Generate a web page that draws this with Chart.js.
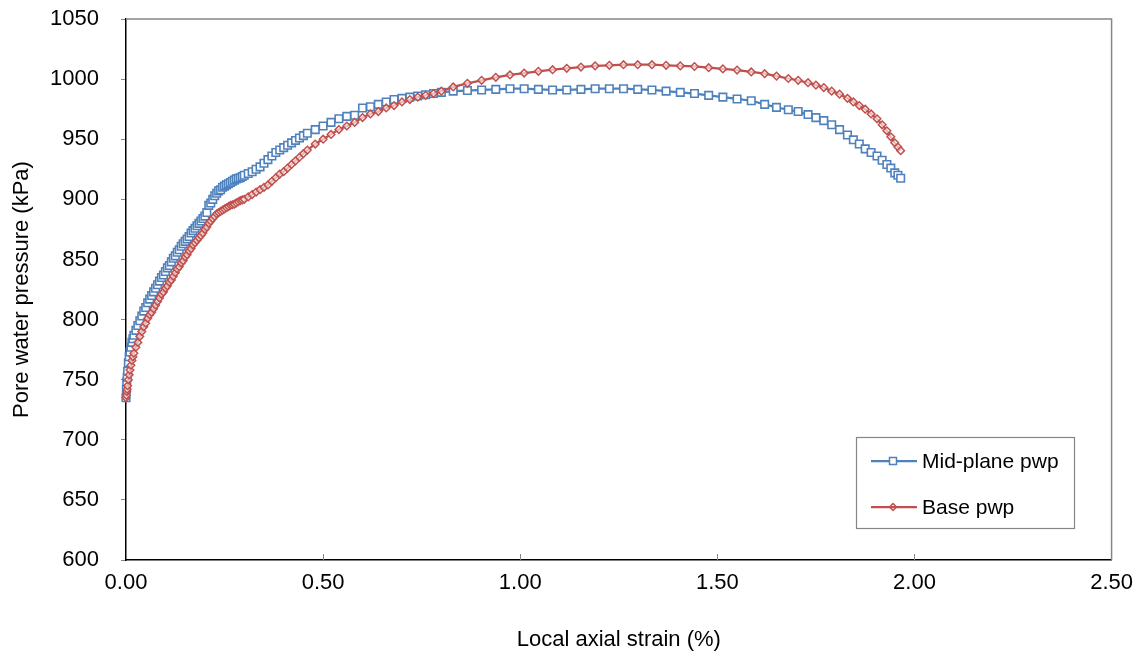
<!DOCTYPE html>
<html lang="en">
<head>
  <meta charset="UTF-8">
  <script src="https://cdn.jsdelivr.net/npm/chart.js"></script>
  <title>Pore water pressure vs local axial strain</title>
  <style>
    body { margin: 0; background: #fff; }
    #wrap { width: 1143px; height: 654px; }
  </style>
</head>
<body>
  <div id="wrap"><canvas id="pwpChart" width="1143" height="654"></canvas></div>

  <script>
    // local axial strain (%) - both gauges logged at the same instants
    const strain = [
      0, 0.001, 0.002, 0.003, 0.004, 0.006, 0.008, 0.01, 0.0125, 0.015,
      0.0175, 0.02, 0.025, 0.03, 0.035, 0.04, 0.045, 0.05, 0.055, 0.06,
      0.065, 0.07, 0.075, 0.08, 0.085, 0.09, 0.095, 0.10, 0.105, 0.11,
      0.115, 0.12, 0.125, 0.13, 0.135, 0.14, 0.145, 0.15, 0.155, 0.16,
      0.165, 0.17, 0.175, 0.18, 0.185, 0.19, 0.195, 0.20, 0.205, 0.21,
      0.215, 0.22, 0.225, 0.23, 0.235, 0.24, 0.245, 0.25, 0.255, 0.26,
      0.265, 0.27, 0.275, 0.28, 0.285, 0.29, 0.295, 0.30, 0.31, 0.32,
      0.33, 0.34, 0.35, 0.36, 0.37, 0.38, 0.39, 0.40, 0.41, 0.42,
      0.43, 0.44, 0.45, 0.46, 0.48, 0.50, 0.52, 0.54, 0.56, 0.58,
      0.60, 0.62, 0.64, 0.66, 0.68, 0.70, 0.72, 0.74, 0.76, 0.78,
      0.80, 0.83, 0.866, 0.902, 0.938, 0.974, 1.01, 1.046, 1.082, 1.118,
      1.154, 1.19, 1.226, 1.262, 1.298, 1.334, 1.37, 1.406, 1.442, 1.478,
      1.514, 1.55, 1.586, 1.62, 1.65, 1.68, 1.705, 1.73, 1.75, 1.77,
      1.79, 1.81, 1.83, 1.845, 1.86, 1.875, 1.89, 1.905, 1.918, 1.93,
      1.94, 1.95, 1.958, 1.965
    ];

    // pore water pressure (kPa)
    const midPlane = [
      735, 742, 748, 752, 757, 764, 769, 773, 777, 781,
      784, 787, 791, 795, 799, 803, 807, 810, 814, 817,
      820, 823, 826, 829, 832, 835, 837, 840, 843, 845,
      848, 851, 853, 856, 858, 861, 863, 865, 867, 869,
      872, 874, 876, 878, 880, 882, 884, 886, 889, 895,
      897, 900, 903, 905, 907, 908, 910, 911, 912, 913,
      914, 915, 916, 917, 917.5, 918, 919, 920, 921.5, 923,
      925, 927, 930, 933, 936, 939, 941, 943, 945, 947,
      949, 951, 953, 955, 958, 961, 964, 967, 969, 970,
      976, 977, 979, 981, 983, 984, 985, 986, 987, 988,
      989, 990, 990.5, 991, 991.5, 992, 992, 991.5, 991, 991,
      991.5, 992, 992, 992, 991.5, 991, 990, 989, 988, 986.5,
      985, 983.5, 982, 979, 976.5, 974.5, 973, 970.5, 968, 965.5,
      962, 958, 953.5, 949.5, 946, 942, 939, 936, 932.5, 929,
      926, 922, 920, 917.5
    ];

    const base = [
      735, 737, 740, 742, 745, 750, 754, 758, 762, 766,
      769, 772, 777, 781, 786, 790, 794, 797, 801, 804,
      806, 809, 812, 815, 818, 821, 823, 826, 828, 831,
      833, 836, 839, 842, 844, 847, 849, 852, 854, 857,
      859, 862, 864, 866, 868, 870, 872, 875, 877, 880,
      882, 884, 886, 888, 889, 890, 891, 892, 893, 894,
      895, 895.5, 896, 897, 898, 899, 899.5, 900, 902, 904,
      906, 908, 910, 912, 915, 918, 921, 923, 926, 929,
      932, 935, 938, 941, 946, 950, 954, 958, 961, 964,
      968, 971, 973, 976, 978, 981, 983, 985, 986.5, 988,
      990, 993.5, 996.5, 999, 1001.5, 1003.5, 1005, 1006.5, 1007.8, 1009,
      1010, 1011, 1011.5, 1012, 1012, 1012, 1011.5, 1011, 1010.5, 1009.5,
      1008.5, 1007.5, 1006, 1004.5, 1002.5, 1000.5, 999, 997, 995, 993,
      990, 987.5, 984, 981, 978, 975, 971, 967, 962, 957,
      952, 947, 943.5, 940.5
    ];

    const seriesNames = ["Mid-plane pwp", "Base pwp"];
    const blue = "#4F81BD";
    const red = "#C0504D";
    const FONT = "'Liberation Sans', Arial, sans-serif";

    const toPoints = ys => strain.map((x, i) => ({ x: x, y: ys[i] }));

    // grey top/right frame + inward x ticks
    const framePlugin = {
      id: "frame",
      beforeDatasetsDraw(chart) {
        const { ctx, chartArea: a, scales: { x } } = chart;
        ctx.save();
        ctx.strokeStyle = "#868686";
        ctx.lineWidth = 1.5;
        ctx.beginPath();
        ctx.moveTo(a.left, a.top);
        ctx.lineTo(a.right, a.top);
        ctx.lineTo(a.right, a.bottom);
        ctx.stroke();
        ctx.lineWidth = 1;
        ctx.beginPath();
        x.ticks.forEach(t => {
          const px = Math.round(x.getPixelForValue(t.value)) + 0.5;
          if (px < a.left + 2 || px > a.right - 2) return;
          ctx.moveTo(px, a.bottom);
          ctx.lineTo(px, a.bottom - 6);
        });
        ctx.stroke();
        ctx.restore();
      }
    };

    // boxed legend inside the plot
    const legendBox = {
      id: "legendBox",
      afterDraw(chart) {
        const ctx = chart.ctx;
        const bx = 856, by = 437, bw = 218, bh = 91;
        ctx.save();
        ctx.fillStyle = "#fff";
        ctx.fillRect(bx, by, bw, bh);
        ctx.strokeStyle = "#868686";
        ctx.lineWidth = 1.2;
        ctx.strokeRect(bx + 0.5, by + 0.5, bw, bh);
        const rows = [
          { y: 461, color: blue, shape: "rect", label: seriesNames[0] },
          { y: 507, color: red, shape: "diamond", label: seriesNames[1] }
        ];
        rows.forEach(r => {
          ctx.strokeStyle = r.color;
          ctx.lineWidth = 2.25;
          ctx.beginPath();
          ctx.moveTo(871, r.y);
          ctx.lineTo(917, r.y);
          ctx.stroke();
          ctx.lineWidth = 1.5;
          ctx.beginPath();
          if (r.shape === "rect") {
            ctx.fillStyle = "#fff";
            ctx.rect(893 - 3.5, r.y - 3.5, 7, 7);
            ctx.fill();
          } else {
            ctx.moveTo(893, r.y - 3.5);
            ctx.lineTo(896.5, r.y);
            ctx.lineTo(893, r.y + 3.5);
            ctx.lineTo(889.5, r.y);
            ctx.closePath();
          }
          ctx.stroke();
          ctx.fillStyle = "#000";
          ctx.font = "21px " + FONT;
          ctx.textBaseline = "middle";
          ctx.fillText(r.label, 922, r.y + 1);
        });
        ctx.restore();
      }
    };

    new Chart(document.getElementById("pwpChart"), {
      type: "scatter",
      data: {
        datasets: [
          {
            label: seriesNames[0],
            data: toPoints(midPlane),
            showLine: true,
            borderColor: blue,
            borderWidth: 2.25,
            pointStyle: "rect",
            pointRadius: 5.3,
            pointBorderWidth: 1.6,
            pointBorderColor: blue,
            pointBackgroundColor: "#fff",
            clip: false,
            order: 1
          },
          {
            label: seriesNames[1],
            data: toPoints(base),
            showLine: true,
            borderColor: red,
            borderWidth: 2.25,
            pointStyle: "rectRot",
            pointRadius: 3.8,
            pointBorderWidth: 1.5,
            pointBorderColor: red,
            pointBackgroundColor: "rgba(255,255,255,0.6)",
            clip: false,
            order: 0
          }
        ]
      },
      options: {
        responsive: false,
        animation: false,
        layout: { padding: { top: 19, right: 31, left: 0, bottom: 0 } },
        plugins: {
          legend: { display: false },
          tooltip: { enabled: false }
        },
        scales: {
          x: {
            type: "linear",
            min: 0,
            max: 2.5,
            afterFit(scale) { scale.height = 94; },
            ticks: {
              stepSize: 0.5,
              padding: 10,
              color: "#000",
              font: { family: FONT, size: 22 },
              callback: v => v.toFixed(2)
            },
            grid: { drawOnChartArea: false, drawTicks: false, tickLength: 0 },
            border: { color: "#000", width: 1.5 },
            title: {
              display: true,
              text: "Local axial strain (%)",
              color: "#000",
              font: { family: FONT, size: 22 },
              padding: { top: 0, bottom: 1 }
            }
          },
          y: {
            type: "linear",
            min: 600,
            max: 1050,
            afterFit(scale) {
              scale.width = 126;
              scale.paddingTop = 0;
              scale.paddingBottom = 0;
            },
            ticks: {
              stepSize: 50,
              padding: 22,
              color: "#000",
              font: { family: FONT, size: 22 },
              callback: v => String(v)
            },
            grid: { drawOnChartArea: false, drawTicks: true, tickLength: 5, color: "#868686" },
            border: { color: "#000", width: 1.5 },
            title: {
              display: true,
              text: "Pore water pressure (kPa)",
              color: "#000",
              font: { family: FONT, size: 22 },
              padding: { top: 9, bottom: 0 }
            }
          }
        }
      },
      plugins: [framePlugin, legendBox]
    });
  </script>
</body>
</html>
